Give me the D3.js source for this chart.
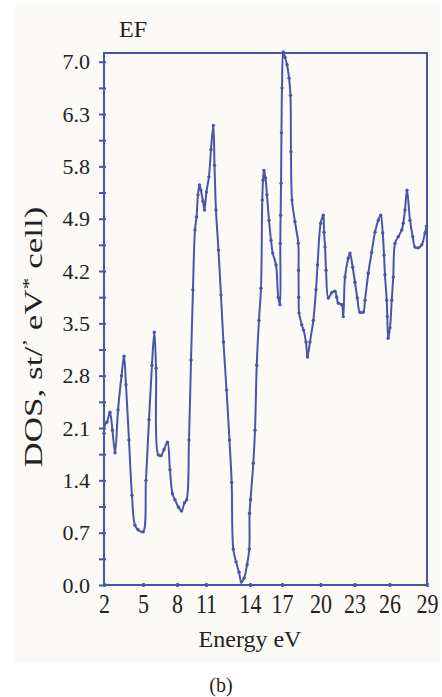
<!DOCTYPE html>
<html>
<head>
<meta charset="utf-8">
<script src="https://cdn.jsdelivr.net/npm/d3@7"></script>
<style>
  body { margin: 0; background: #fff; }
  text { font-family: "Liberation Serif", "Times New Roman", serif; fill: #222; }
</style>
</head>
<body>
<script>
const width = 442;
const height = 697;

// tick labels as printed on the figure
var xTicks = [2, 5, 8, 11, 14, 17, 20, 23, 26, 29];
var yTicks = [0.0, 0.7, 1.4, 2.1, 2.8, 3.5, 4.2, 4.9, 5.8, 6.3, 7.0];
var yMinor = [0.35, 1.05, 1.75, 2.45, 3.15, 3.85, 4.55, 5.35, 6.05, 6.65];

// DOS curve
var energy = [2.0, 2.04, 2.23, 2.46, 2.65, 2.85, 3.08, 3.35, 3.54, 3.69,
  3.92, 4.15, 4.38, 4.62, 5.0, 5.26, 5.53, 5.79, 6.0, 6.15,
  6.35, 6.59, 6.85, 7.16, 7.38, 7.6, 7.82, 8.16, 8.47, 8.78,
  9.0, 9.24, 9.45, 9.65, 9.86, 10.02, 10.17, 10.32, 10.47, 10.69,
  10.84, 11.03, 11.2, 11.34, 11.5, 11.58, 11.68, 11.85, 12.02, 12.19,
  12.4, 12.6, 12.75, 12.86, 13.05, 13.25, 13.41, 13.59, 13.8, 13.95,
  13.97, 14.05, 14.31, 14.47, 14.63, 14.84, 15.03, 15.15, 15.22, 15.31,
  15.45, 15.59, 15.78, 15.97, 16.13, 16.44, 16.65, 16.81, 16.84, 16.87,
  16.91, 16.95, 17.0, 17.1, 17.23, 17.39, 17.55, 17.66, 17.7, 17.78,
  18.01, 18.27, 18.29, 18.3, 18.33, 18.54, 18.68, 18.87, 18.99, 19.18,
  19.44, 19.65, 19.77, 20.02, 20.25, 20.31, 20.4, 20.49, 20.69, 20.99,
  21.28, 21.43, 21.57, 21.87, 22.01, 22.16, 22.45, 22.6, 22.84, 23.04,
  23.24, 23.47, 23.75, 23.9, 24.18, 24.47, 24.76, 25.04, 25.25, 25.42,
  25.53, 25.61, 25.76, 25.81, 25.89, 26.04, 26.18, 26.3, 26.44, 26.7,
  26.98, 27.1, 27.24, 27.4, 27.64, 27.86, 28.04, 28.3, 28.58, 28.84,
  28.96];
var dos = [2.03, 2.14, 2.18, 2.31, 2.07, 1.77, 2.34, 2.8, 3.06, 2.68,
  1.94, 1.2, 0.8, 0.74, 0.71, 1.4, 2.21, 2.94, 3.38, 2.9,
  1.74, 1.73, 1.81, 1.91, 1.54, 1.22, 1.14, 1.04, 0.99, 1.1,
  1.14, 1.94, 3.01, 3.95, 4.75, 4.93, 5.31, 5.48, 5.39, 5.2,
  5.05, 5.36, 5.62, 5.96, 6.19, 5.81, 5.05, 4.48, 3.88, 3.25,
  2.61, 1.94, 1.37, 0.48, 0.31, 0.17, 0.04, 0.09, 0.27, 0.48,
  0.96, 1.14, 1.63, 2.07, 2.94, 3.54, 3.97, 5.22, 5.56, 5.73,
  5.6, 5.31, 4.88, 4.61, 4.44, 4.28, 3.85, 3.75, 4.57, 4.96,
  5.51, 6.12, 6.65, 7.13, 7.06, 6.96, 6.78, 6.55, 5.94, 5.22,
  4.86, 4.57, 4.21, 3.85, 3.64, 3.48, 3.41, 3.25, 3.05, 3.25,
  3.54, 3.95, 4.28, 4.84, 4.96, 4.72, 4.52, 4.21, 3.84, 3.91,
  3.93, 3.85, 3.77, 3.75, 3.59, 4.12, 4.37, 4.44, 4.25, 4.05,
  3.84, 3.65, 3.65, 3.81, 4.17, 4.45, 4.72, 4.88, 4.96, 4.71,
  4.41, 4.15, 3.81, 3.59, 3.3, 3.44, 3.81, 4.12, 4.57, 4.66,
  4.75, 4.84, 5.05, 5.39, 4.88, 4.66, 4.52, 4.51, 4.55, 4.71,
  4.8];

const color = "#4c54a9";
const plotLeft = 104, plotRight = 427, plotTop = 53, plotBottom = 585;

var svg = d3.select("body")
  .append("svg")
  .attr("width", width)
  .attr("height", height);

// light panel behind the figure
svg.append("rect")
  .attr("x", 15).attr("y", 4)
  .attr("width", 425).attr("height", 659)
  .attr("fill", "#fcfaf7");

// the printed axes are not evenly spaced, so both scales are piecewise
var x = d3.scaleLinear()
  .domain(xTicks)
  .range([104, 143, 177, 206, 250, 282, 320.5, 354.5, 389.5, 427]);

var step = (plotBottom - 61.7) / (yTicks.length - 1);
var y = d3.scaleLinear()
  .domain(yTicks)
  .range(yTicks.map(function(d, i) { return plotBottom - i * step; }));

// frame
svg.append("rect")
  .attr("x", plotLeft).attr("y", plotTop)
  .attr("width", plotRight - plotLeft).attr("height", plotBottom - plotTop)
  .attr("fill", "none")
  .attr("stroke", color)
  .attr("stroke-width", 2);

// y axis
var yAxis = svg.append("g")
  .attr("transform", "translate(" + plotLeft + ",0)")
  .call(d3.axisLeft(y).tickValues(yTicks).tickSize(5).tickPadding(9)
    .tickFormat(d3.format(".1f")));
yAxis.select(".domain").remove();
yAxis.selectAll(".tick line").attr("x1", 2).attr("stroke", color).attr("stroke-width", 2);
yAxis.selectAll(".tick text").attr("font-size", 22).attr("fill", "#222")
  .attr("font-family", "Liberation Serif");

var yAxisMinor = svg.append("g")
  .attr("transform", "translate(" + plotLeft + ",0)")
  .call(d3.axisLeft(y).tickValues(yMinor).tickSize(5).tickFormat(""));
yAxisMinor.select(".domain").remove();
yAxisMinor.selectAll(".tick line").attr("x1", 2).attr("stroke", color).attr("stroke-width", 2);

// x axis (labels slightly taller, as in the print)
var xAxis = svg.append("g")
  .attr("transform", "translate(0," + plotBottom + ")")
  .call(d3.axisBottom(x).tickValues(xTicks).tickSize(2).tickPadding(4));
xAxis.select(".domain").remove();
xAxis.selectAll(".tick line").attr("y1", -2).attr("stroke", color).attr("stroke-width", 2.5);
xAxis.selectAll(".tick text").attr("font-size", 22).attr("fill", "#222")
  .attr("font-family", "Liberation Serif")
  .attr("y", 7.7)
  .attr("transform", "scale(1,1.2)");

// curve
var points = energy.map(function(e, i) { return [e, dos[i]]; });
var line = d3.line()
  .x(function(d) { return x(d[0]); })
  .y(function(d) { return y(d[1]); })
  .curve(d3.curveCatmullRom.alpha(0.5));

svg.append("path")
  .datum(points)
  .attr("d", line)
  .attr("fill", "none")
  .attr("stroke", color)
  .attr("stroke-width", 2);

svg.selectAll("circle.pt")
  .data(points)
  .enter()
  .append("circle")
  .attr("class", "pt")
  .attr("cx", function(d) { return x(d[0]); })
  .attr("cy", function(d) { return y(d[1]); })
  .attr("r", 1.7)
  .attr("fill", color);

// titles
svg.append("text")
  .attr("x", 133).attr("y", 37)
  .attr("text-anchor", "middle")
  .attr("font-size", 24)
  .text("EF");

svg.append("text")
  .attr("x", 250).attr("y", 647)
  .attr("text-anchor", "middle")
  .attr("font-size", 24)
  .text("Energy eV");

var yTitle = svg.append("text")
  .attr("transform", "translate(42,337) scale(1,1.4) rotate(-90)")
  .attr("text-anchor", "middle")
  .attr("font-size", 25);
yTitle.append("tspan").text("DOS, st/");
yTitle.append("tspan").attr("dy", -8).attr("font-size", 17).text("’");
yTitle.append("tspan").attr("dy", 8).text(" eV");
yTitle.append("tspan").attr("dy", -8).attr("font-size", 17).text("*");
yTitle.append("tspan").attr("dy", 8).text(" cell)");

svg.append("text")
  .attr("x", 221).attr("y", 692)
  .attr("text-anchor", "middle")
  .attr("font-size", 20)
  .text("(b)");
</script>
</body>
</html>
